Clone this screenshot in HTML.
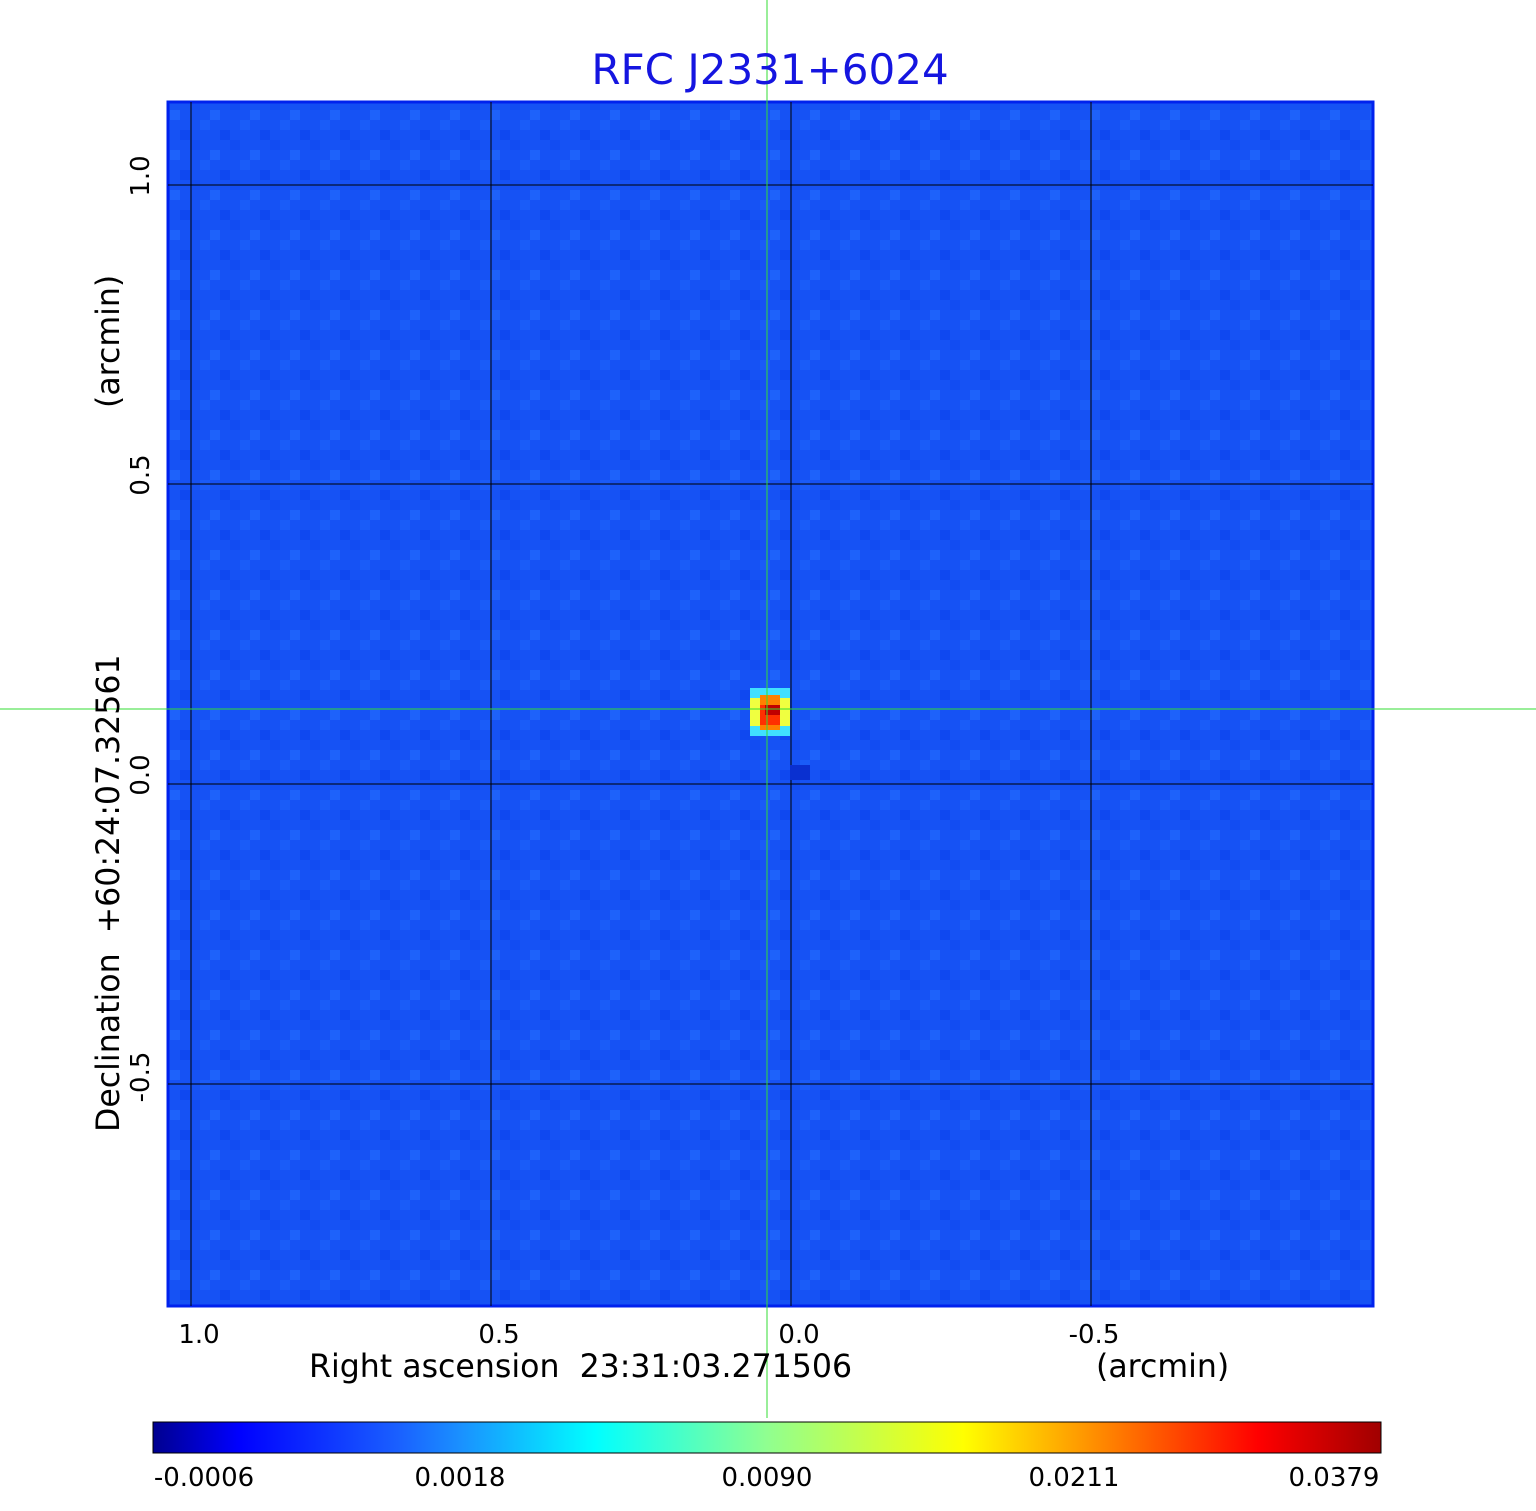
<!DOCTYPE html>
<html><head><style>
body{margin:0;background:#fff;width:1536px;height:1511px;position:relative;overflow:hidden;font-family:"DejaVu Sans","Liberation Sans",sans-serif}
</style></head><body>
<svg width="1536" height="1511" style="position:absolute;left:0;top:0">
<defs>
<linearGradient id="jet" x1="0" x2="1">
<stop offset="0" stop-color="#00008f"/>
<stop offset="0.07" stop-color="#0000ff"/>
<stop offset="0.2" stop-color="#1a60ff"/>
<stop offset="0.25" stop-color="#1a90ff"/>
<stop offset="0.36" stop-color="#00ffff"/>
<stop offset="0.5" stop-color="#90ff90"/>
<stop offset="0.66" stop-color="#ffff00"/>
<stop offset="0.75" stop-color="#ffa000"/>
<stop offset="0.9" stop-color="#ff0000"/>
<stop offset="1" stop-color="#a00000"/>
</linearGradient>
<pattern id="noise" width="40" height="40" patternUnits="userSpaceOnUse">
<rect width="40" height="40" fill="#1652f4"/>
<rect x="0" y="0" width="10" height="10" fill="#1a5cf8"/>
<rect x="20" y="10" width="10" height="10" fill="#0f48f0"/>
<rect x="10" y="30" width="10" height="10" fill="#1e62fa"/>
<rect x="30" y="20" width="10" height="10" fill="#124cf2"/>
</pattern>
</defs>
<rect x="168" y="102" width="1205" height="1204" fill="url(#noise)" stroke="#0022ee" stroke-width="3"/>
<g stroke="#000" stroke-width="1">
<line x1="191" y1="102" x2="191" y2="1306"/><line x1="491" y1="102" x2="491" y2="1306"/>
<line x1="791" y1="102" x2="791" y2="1306"/><line x1="1091" y1="102" x2="1091" y2="1306"/>
<line x1="168" y1="185" x2="1373" y2="185"/><line x1="168" y1="484" x2="1373" y2="484"/>
<line x1="168" y1="784" x2="1373" y2="784"/><line x1="168" y1="1084" x2="1373" y2="1084"/>
</g>
<rect x="750" y="688" width="40" height="48" fill="#40e0ff"/>
<rect x="750" y="698" width="40" height="28" fill="#f0ff40"/>
<rect x="760" y="695" width="20" height="35" fill="#ff8000"/>
<rect x="760" y="705" width="20" height="20" fill="#ff3000"/>
<rect x="765" y="705" width="15" height="10" fill="#c00000"/>
<rect x="790" y="765" width="20" height="15" fill="#0a30d0"/>
<line x1="767" y1="0" x2="767" y2="1418" stroke="#33dd33" stroke-width="1"/>
<line x1="0" y1="709" x2="1536" y2="709" stroke="#33dd33" stroke-width="1"/>
<rect x="153" y="1422" width="1228" height="31" fill="url(#jet)" stroke="#000" stroke-width="1"/>
<text x="770" y="84" font-size="42" fill="#1515e0" text-anchor="middle" font-family="DejaVu Sans,sans-serif">RFC J2331+6024</text>
<g font-size="26" font-family="DejaVu Sans,sans-serif">
<text x="199" y="1343" text-anchor="middle">1.0</text>
<text x="499" y="1343" text-anchor="middle">0.5</text>
<text x="799" y="1343" text-anchor="middle">0.0</text>
<text x="1094" y="1343" text-anchor="middle">-0.5</text>
<text x="204" y="1486" text-anchor="middle">-0.0006</text>
<text x="460" y="1486" text-anchor="middle">0.0018</text>
<text x="767" y="1486" text-anchor="middle">0.0090</text>
<text x="1074" y="1486" text-anchor="middle">0.0211</text>
<text x="1334" y="1486" text-anchor="middle">0.0379</text>
<g transform="translate(149,0)">
<text transform="translate(0,176) rotate(-90)" text-anchor="middle">1.0</text>
<text transform="translate(0,475) rotate(-90)" text-anchor="middle">0.5</text>
<text transform="translate(0,775) rotate(-90)" text-anchor="middle">0.0</text>
<text transform="translate(0,1077) rotate(-90)" text-anchor="middle">-0.5</text>
</g>
</g>
<g font-size="31.6" font-family="DejaVu Sans,sans-serif" style="white-space:pre">
<text x="309" y="1377" xml:space="preserve">Right ascension  23:31:03.271506</text>
<text x="1096" y="1377">(arcmin)</text>
<text transform="translate(119,1132) rotate(-90)" xml:space="preserve">Declination  +60:24:07.32561</text>
<text transform="translate(119,408) rotate(-90)">(arcmin)</text>
</g>
</svg>
</body></html>
